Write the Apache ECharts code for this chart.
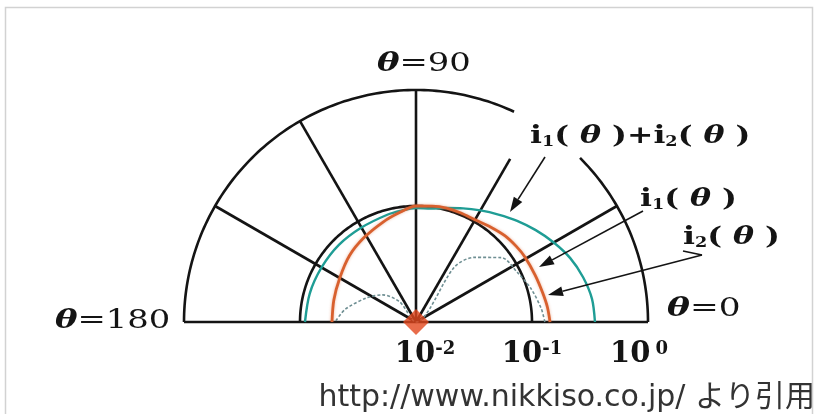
<!DOCTYPE html>
<html>
<head>
<meta charset="utf-8">
<script src="https://cdn.jsdelivr.net/npm/echarts@6/dist/echarts.min.js"></script>
<style>
  html, body { margin: 0; padding: 0; background: #fff; }
  #chart { width: 819px; height: 414px; }
</style>
</head>
<body>
<div id="chart"></div>
<script>
// Radial scale: logarithmic, one ring per decade
const radiusTicks = [0.01, 0.1, 1];
const radiusExponents = ['-2', '-1', '0'];

// Direction spokes (degrees) and how far each one reaches on the radial scale
const spokeAngles = [30, 60, 90, 120, 150];
const spokeReach = [1, 0.42, 1, 1, 1];

// Outer ring is interrupted between these two angles (room for the callout)
const outerGapFrom = 45;
const outerGapTo = 65;

// i1(θ)+i2(θ)
const sumAngles = [0, 7.5, 15, 22.5, 30, 37.5, 45, 52.5, 60, 67.5, 75, 82.5, 90, 97.5, 105, 120, 135, 150, 165, 180];
const sumValues = [0.349, 0.339, 0.310, 0.275, 0.235, 0.200, 0.171, 0.147, 0.129, 0.115, 0.104, 0.097, 0.096, 0.093, 0.0906, 0.0871, 0.0871, 0.0871, 0.0888, 0.0906];

// i1(θ)
const i1Angles = [0, 6.5, 13, 21.5, 31, 37, 44, 51.7, 60, 67.6, 75, 82, 90, 98, 108, 122, 135, 150, 165, 180];
const i1Values = [0.143, 0.138, 0.132, 0.127, 0.124, 0.121, 0.117, 0.110, 0.104, 0.104, 0.104, 0.102, 0.100, 0.0906, 0.081, 0.0713, 0.0646, 0.0574, 0.0541, 0.053];

// i2(θ)
const i2Angles = [0, 6, 16, 26, 37, 48, 55, 60, 90, 125, 129, 141, 154, 170, 180];
const i2Values = [0.129, 0.122, 0.108, 0.094, 0.0835, 0.0562, 0.0379, 0.01, 0.01, 0.01, 0.0167, 0.0235, 0.0298, 0.0418, 0.0499];

const INK = '#141414';
const TEAL = '#1f9d95';
const ORANGE = '#d8602e';
const DOTTED = '#6f8f93';

const pairs = (angles, values) => angles.map((a, i) => [values[i], a]);

// ring as polyline in polar space, stepping through angles
function ring(r, from, to) {
  const pts = [];
  for (let a = from; a <= to + 1e-9; a += 1) pts.push([r, a]);
  return pts;
}

// Frame of the diagram: baseline, spokes and decade rings, each a path of [radius, angle]
const gridPaths = [];
gridPaths.push([[1, 0], [radiusTicks[0], 0], [1, 180]]);
spokeAngles.forEach((a, i) => gridPaths.push([[radiusTicks[0], a], [spokeReach[i], a]]));
gridPaths.push(ring(radiusTicks[1], 0, 180));
gridPaths.push(ring(radiusTicks[2], 0, outerGapFrom));
gridPaths.push(ring(radiusTicks[2], outerGapTo, 180));

const series = [];
series.push({
  type: 'custom', coordinateSystem: 'polar', silent: true, z: 2, clip: false,
  data: gridPaths.map(p => p[0]),
  renderItem: (params, api) => ({
    type: 'polyline',
    shape: { points: gridPaths[params.dataIndex].map(p => api.coord(p)) },
    style: { stroke: INK, lineWidth: 2.6, fill: 'none', lineJoin: 'round' }
  })
});

series.push({
  name: 'i1(θ)+i2(θ)', type: 'line', coordinateSystem: 'polar',
  data: pairs(sumAngles, sumValues), smooth: 0.3, symbol: 'none', z: 3,
  lineStyle: { color: TEAL, width: 2.4 }
});
series.push({
  name: 'i1(θ)', type: 'line', coordinateSystem: 'polar',
  data: pairs(i1Angles, i1Values), smooth: 0.3, symbol: 'none', z: 3,
  lineStyle: { color: ORANGE, width: 2.8, shadowColor: 'rgba(216,96,46,0.45)', shadowBlur: 3 }
});
series.push({
  name: 'i2(θ)', type: 'line', coordinateSystem: 'polar',
  data: pairs(i2Angles, i2Values), smooth: 0.3, symbol: 'none', z: 3,
  lineStyle: { color: DOTTED, width: 1.6, type: [3, 2] }
});
// origin marker
series.push({
  type: 'scatter', coordinateSystem: 'polar', data: [[radiusTicks[0], 90]], clip: false,
  symbol: 'diamond', symbolSize: [26, 26], z: 5, silent: true,
  itemStyle: { color: '#e2471d' }
});

const serif = '"DejaVu Serif", "Liberation Serif", serif';

function label(x, y, rich, text, sx) {
  return {
    type: 'text', x, y, z: 10, silent: true, scaleX: sx, originX: 0, originY: 0,
    style: { text, rich, fill: INK, align: 'left', verticalAlign: 'middle',
             textAlign: 'left', textVerticalAlign: 'middle',
             font: '26px ' + serif }
  };
}

const thetaRich = {
  t: { fontFamily: serif, fontStyle: 'italic', fontWeight: 'bold', fontSize: 26, color: INK },
  n: { fontFamily: serif, fontSize: 26, color: INK }
};
const curveRich = {
  b: { fontFamily: serif, fontWeight: 'bold', fontSize: 25, color: INK },
  s: { fontFamily: serif, fontWeight: 'bold', fontSize: 14, color: INK, verticalAlign: 'bottom', lineHeight: 27 },
  t: { fontFamily: serif, fontWeight: 'bold', fontStyle: 'italic', fontSize: 25, color: INK }
};

function arrow(x0, y0, x1, y1) {
  // leader line with a filled head at (x1, y1)
  const dx = x1 - x0, dy = y1 - y0, len = Math.hypot(dx, dy);
  const ux = dx / len, uy = dy / len, hl = 15, hw = 5;
  const bx = x1 - ux * hl, by = y1 - uy * hl;
  return [
    { type: 'line', z: 10, silent: true, shape: { x1: x0, y1: y0, x2: bx, y2: by },
      style: { stroke: INK, lineWidth: 1.6 } },
    { type: 'polygon', z: 10, silent: true,
      shape: { points: [[x1, y1], [bx - uy * hw, by + ux * hw], [bx + uy * hw, by - ux * hw]] },
      style: { fill: INK } }
  ];
}

const graphic = [
  { type: 'rect', z: 0, silent: true, shape: { x: 5.5, y: 7.5, width: 807, height: 430 },
    style: { fill: 'none', stroke: '#d2d2d2', lineWidth: 1.5 } },
  label(377, 64, thetaRich, '{t|θ}{n|=90}', 1.3),
  label(55, 321, thetaRich, '{t|θ}{n|=180}', 1.3),
  label(667, 309, thetaRich, '{t|θ}{n|=0}', 1.32),
  label(530, 136, curveRich, '{b|i}{s|1}{b|( }{t|θ}{b| )+i}{s|2}{b|( }{t|θ}{b| )}', 1.26),
  label(640, 199, curveRich, '{b|i}{s|1}{b|( }{t|θ}{b| )}', 1.26),
  label(683, 237, curveRich, '{b|i}{s|2}{b|( }{t|θ}{b| )}', 1.26),
  ...arrow(545, 157, 510, 212),
  ...arrow(643, 211, 539, 267),
  { type: 'polyline', z: 10, silent: true, shape: { points: [[683, 251], [702, 255]] },
    style: { stroke: INK, lineWidth: 1.6 } },
  ...arrow(702, 255, 548, 295),
  { type: 'text', x: 815, y: 398, z: 10, silent: true,
    style: { text: 'http://www.nikkiso.co.jp/ より引用', fill: '#333',
             align: 'right', verticalAlign: 'middle', textAlign: 'right', textVerticalAlign: 'middle',
             font: '30px "DejaVu Sans", "Noto Sans CJK JP", sans-serif' } }
];

const chart = echarts.init(document.getElementById('chart'), null, { renderer: 'canvas' });
chart.setOption({
  animation: false,
  backgroundColor: '#fff',
  polar: { center: [416, 322], radius: 232 },
  angleAxis: {
    type: 'value', min: 0, max: 360, startAngle: 0, clockwise: false,
    axisLine: { show: false }, axisTick: { show: false }, axisLabel: { show: false },
    splitLine: { show: false }
  },
  radiusAxis: {
    type: 'log', logBase: 10, min: radiusTicks[0], max: radiusTicks[radiusTicks.length - 1],
    axisLine: { show: false }, axisTick: { show: false }, splitLine: { show: false },
    axisLabel: {
      show: true, margin: -18, verticalAlign: 'top', align: 'center', hideOverlap: false,
      showMinLabel: true, showMaxLabel: true,
      formatter: (v) => {
        const i = radiusTicks.findIndex(t => Math.abs(Math.log10(t) - Math.log10(v)) < 1e-6);
        if (i < 0) return '';
        // first label sits a little right of its tick, last one a little left
        const lead = i === 0 ? '{pad|}' : '';
        const tail = i === radiusTicks.length - 1 ? '{pad|}' : '';
        const gap = i === radiusTicks.length - 1 ? '{gap|}' : '';
        return lead + '{n|10}' + gap + '{e|' + radiusExponents[i] + '}' + tail;
      },
      rich: {
        n: { fontFamily: serif, fontWeight: 'bold', fontSize: 29, color: INK },
        e: { fontFamily: serif, fontWeight: 'bold', fontSize: 18, color: INK, verticalAlign: 'top', lineHeight: 16 },
        pad: { width: 18 },
        gap: { width: 5 }
      }
    }
  },
  series,
  graphic
});
</script>
</body>
</html>
